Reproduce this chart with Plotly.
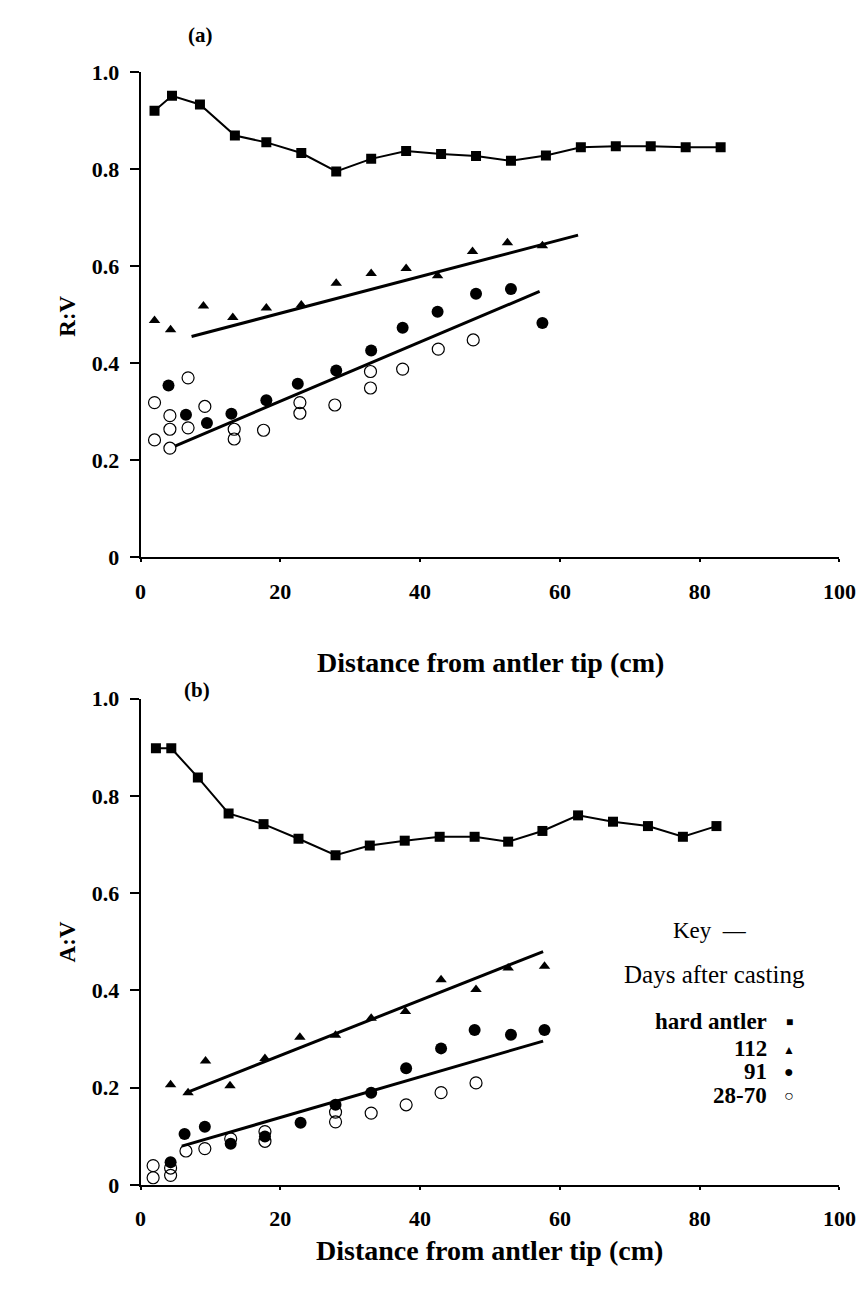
import plotly.graph_objects as go

W, H = 865, 1295

# ---------------- Panel (a): R:V ----------------
hard_a_x = [2, 4.5, 8.5, 13.5, 18, 23, 28, 33, 38, 43, 48, 53, 58, 63, 68, 73, 78, 83]
hard_a_y = [0.920, 0.951, 0.933, 0.869, 0.855, 0.833, 0.795, 0.821, 0.837, 0.831,
            0.827, 0.817, 0.828, 0.845, 0.847, 0.847, 0.845, 0.845]

d112_a_x = [2, 4.3, 9, 13.2, 18, 23, 28, 33, 38, 42.5, 47.5, 52.5, 57.5]
d112_a_y = [0.488, 0.469, 0.518, 0.494, 0.514, 0.520, 0.565, 0.585, 0.595, 0.580,
            0.630, 0.648, 0.642]

d91_a_x = [4, 6.5, 9.5, 13, 18, 22.5, 28, 33, 37.5, 42.5, 48, 53, 57.5]
d91_a_y = [0.354, 0.294, 0.277, 0.296, 0.324, 0.358, 0.385, 0.426, 0.473, 0.506,
           0.543, 0.553, 0.483]

d2870_a_x = [2, 2, 4.2, 4.2, 4.2, 6.8, 6.8, 9.2, 13.4, 13.4, 17.6, 22.8, 22.8,
             27.8, 32.9, 32.9, 37.5, 42.6, 47.6]
d2870_a_y = [0.319, 0.242, 0.292, 0.264, 0.225, 0.370, 0.267, 0.311, 0.264, 0.244,
             0.262, 0.319, 0.297, 0.314, 0.383, 0.349, 0.388, 0.429, 0.448]

fit112_a_x = [7.3, 62.6]
fit112_a_y = [0.455, 0.664]
fit91_a_x = [5.0, 57.1]
fit91_a_y = [0.230, 0.548]

# ---------------- Panel (b): A:V ----------------
hard_b_x = [2.2, 4.4, 8.2, 12.6, 17.6, 22.6, 27.9, 32.8, 37.8, 42.8, 47.8, 52.6,
            57.5, 62.6, 67.6, 72.6, 77.6, 82.4]
hard_b_y = [0.898, 0.898, 0.838, 0.764, 0.742, 0.712, 0.678, 0.698, 0.708, 0.716,
            0.716, 0.706, 0.728, 0.760, 0.747, 0.738, 0.716, 0.738]

d112_b_x = [4.3, 6.8, 9.3, 12.8, 17.8, 22.8, 27.9, 33, 37.9, 43, 48, 52.6, 57.8]
d112_b_y = [0.206, 0.190, 0.255, 0.204, 0.260, 0.304, 0.308, 0.343, 0.357, 0.422,
            0.402, 0.446, 0.450]

d91_b_x = [4.3, 6.3, 9.2, 12.9, 17.8, 22.9, 27.9, 33, 38, 43, 47.8, 53, 57.8]
d91_b_y = [0.047, 0.105, 0.120, 0.085, 0.100, 0.128, 0.165, 0.190, 0.240, 0.281,
           0.319, 0.309, 0.319]

d2870_b_x = [1.8, 1.8, 4.3, 4.3, 6.5, 9.2, 12.9, 17.8, 17.8, 27.9, 27.9, 33, 38, 43, 48]
d2870_b_y = [0.040, 0.015, 0.035, 0.020, 0.070, 0.075, 0.095, 0.090, 0.110, 0.130,
             0.150, 0.148, 0.165, 0.190, 0.210]

fit112_b_x = [6.4, 57.6]
fit112_b_y = [0.189, 0.480]
fit91_b_x = [5.9, 57.6]
fit91_b_y = [0.080, 0.296]

x_ticks = [0, 20, 40, 60, 80, 100]
y_ticks = [0, 0.2, 0.4, 0.6, 0.8, 1.0]
y_ticklabels = ["0", "0.2", "0.4", "0.6", "0.8", "1.0"]

SERIF = "Liberation Serif"
BLACK = "#000000"

fig = go.Figure()


def add_panel(xa, ya, hx, hy, tx, ty, cx, cy, ox, oy, f1x, f1y, f2x, f2y):
    kw = dict(xaxis=xa, yaxis=ya, showlegend=False, hoverinfo="skip")
    fig.add_trace(go.Scatter(x=hx, y=hy, mode="lines+markers",
                             line=dict(color=BLACK, width=2),
                             marker=dict(symbol="square", size=10, color=BLACK), **kw))
    fig.add_trace(go.Scatter(x=f1x, y=f1y, mode="lines",
                             line=dict(color=BLACK, width=3), **kw))
    fig.add_trace(go.Scatter(x=f2x, y=f2y, mode="lines",
                             line=dict(color=BLACK, width=3), **kw))
    fig.add_trace(go.Scatter(x=tx, y=ty, mode="markers",
                             marker=dict(symbol="triangle-up", size=10, color=BLACK), **kw))
    fig.add_trace(go.Scatter(x=cx, y=cy, mode="markers",
                             marker=dict(symbol="circle", size=12, color=BLACK), **kw))
    fig.add_trace(go.Scatter(x=ox, y=oy, mode="markers",
                             marker=dict(symbol="circle-open", size=12, color=BLACK,
                                         line=dict(width=1.2, color=BLACK)), **kw))


add_panel("x", "y", hard_a_x, hard_a_y, d112_a_x, d112_a_y, d91_a_x, d91_a_y,
          d2870_a_x, d2870_a_y, fit112_a_x, fit112_a_y, fit91_a_x, fit91_a_y)
add_panel("x2", "y2", hard_b_x, hard_b_y, d112_b_x, d112_b_y, d91_b_x, d91_b_y,
          d2870_b_x, d2870_b_y, fit112_b_x, fit112_b_y, fit91_b_x, fit91_b_y)


def px(xp):
    return xp / W


def py(yp):
    return 1 - yp / H


xdom = [px(130), px(848)]
tickfont = dict(family=SERIF, size=22, color=BLACK, weight="bold")

xaxis_common = dict(range=[0, 100], domain=xdom, tickmode="array", tickvals=x_ticks,
                    ticktext=[str(v) for v in x_ticks], showgrid=False, zeroline=False,
                    showline=True, linecolor=BLACK, linewidth=2, ticks="outside",
                    ticklen=3, tickwidth=1.5, tickcolor=BLACK, tickfont=tickfont,
                    ticklabelstandoff=10, ticklabeloverflow="allow", fixedrange=True)
yaxis_common = dict(range=[0, 1.0], tickmode="array", tickvals=y_ticks,
                    ticktext=y_ticklabels, showgrid=False, zeroline=False,
                    showline=True, linecolor=BLACK, linewidth=2, ticks="outside",
                    ticklen=9, tickwidth=1.5, tickcolor=BLACK, tickfont=tickfont,
                    ticklabelstandoff=6, ticklabeloverflow="allow", fixedrange=True)

fig.update_layout(
    width=W, height=H,
    margin=dict(l=0, r=0, t=0, b=0),
    paper_bgcolor="white", plot_bgcolor="white",
    xaxis=dict(anchor="y", **xaxis_common),
    yaxis=dict(anchor="x", domain=[py(548), py(53)], **yaxis_common),
    xaxis2=dict(anchor="y2", **xaxis_common),
    yaxis2=dict(anchor="x2", domain=[py(1188), py(692)], **yaxis_common),
)

bold = dict(family=SERIF, color=BLACK, weight="bold")
normal = dict(family=SERIF, color=BLACK)


def ann(text, x, y, size, font, angle=0, xanchor="center"):
    fig.add_annotation(text=text, x=px(x), y=py(y), xref="paper", yref="paper",
                       showarrow=False, textangle=angle, xanchor=xanchor,
                       yanchor="middle", font=dict(size=size, **font))


ann("(a)", 192, 15, 21, bold)
ann("(b)", 188, 683, 21, bold)
ann("R:V", 55, 302, 23, bold, angle=-90)
ann("A:V", 55, 940, 23, bold, angle=-90)
ann("Distance from antler tip (cm)", 490, 655, 28, bold)
ann("Distance from antler tip (cm)", 488, 1255, 28, bold)

ann("Key  \u2014", 715, 928, 23, normal)
ann("Days after casting", 720, 973, 25, normal)
ann("hard antler", 776, 1021, 23, bold, xanchor="right")
ann("112", 776, 1049, 23, bold, xanchor="right")
ann("91", 776, 1072, 23, bold, xanchor="right")
ann("28-70", 776, 1097, 23, bold, xanchor="right")
ann("\u25A0", 797, 1022, 12, normal)
ann("\u25B2", 796, 1050, 12, normal)
ann("\u25CF", 796, 1072, 16, normal)
ann("\u25CB", 796, 1097, 16, normal)

fig.write_html("out.html")
